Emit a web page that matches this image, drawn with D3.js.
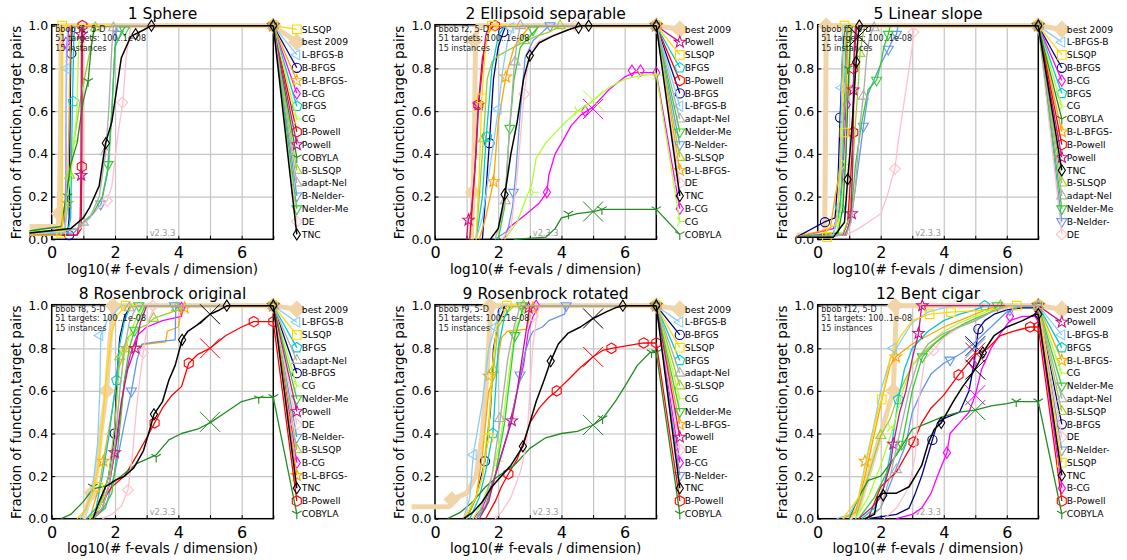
<!DOCTYPE html>
<html><head><meta charset="utf-8">
<script src="https://cdn.jsdelivr.net/npm/d3@7"></script>
<style>body{margin:0;background:#fff}svg{display:block}text{font-family:"DejaVu Sans",sans-serif}</style>
</head><body><svg id="c" width="1127" height="560"></svg>
<script>
// ---------------- DATA ----------------
const xTickLabels = [0, 2, 4, 6];
const yTickLabels = [0.0, 0.2, 0.4, 0.6, 0.8, 1.0];
const infoLines2 = "51 targets: 100..1e-08";
const infoLines3 = "15 instances";
const versionText = "v2.3.3";

const titles = ["1 Sphere", "2 Ellipsoid separable", "5 Linear slope", "8 Rosenbrock original", "9 Rosenbrock rotated", "12 Bent cigar"];
const infoHeads = ["bbob f1, 5-D", "bbob f2, 5-D", "bbob f5, 5-D", "bbob f8, 5-D", "bbob f9, 5-D", "bbob f12, 5-D"];

// legend order (top to bottom) per panel
const orderF1 = ["SLSQP","best 2009","L-BFGS-B","B-BFGS","B-L-BFGS-","B-CG","BFGS","CG","B-Powell","Powell","COBYLA","B-SLSQP","adapt-Nel","B-Nelder-","Nelder-Me","DE","TNC"];
const orderF2 = ["best 2009","Powell","SLSQP","BFGS","B-Powell","B-BFGS","L-BFGS-B","adapt-Nel","Nelder-Me","B-Nelder-","B-SLSQP","B-L-BFGS-","DE","TNC","B-CG","CG","COBYLA"];
const orderF5 = ["best 2009","L-BFGS-B","SLSQP","B-BFGS","B-CG","BFGS","CG","COBYLA","B-L-BFGS-","B-Powell","Powell","TNC","B-SLSQP","adapt-Nel","Nelder-Me","B-Nelder-","DE"];
const orderF8 = ["best 2009","L-BFGS-B","SLSQP","BFGS","adapt-Nel","B-BFGS","CG","Nelder-Me","Powell","DE","B-Nelder-","B-SLSQP","B-CG","B-L-BFGS-","TNC","B-Powell","COBYLA"];
const orderF9 = ["best 2009","L-BFGS-B","B-BFGS","SLSQP","BFGS","adapt-Nel","B-SLSQP","CG","Nelder-Me","B-L-BFGS-","Powell","DE","B-CG","B-Nelder-","TNC","B-Powell","COBYLA"];
const orderF12 = ["best 2009","Powell","L-BFGS-B","BFGS","B-L-BFGS-","CG","Nelder-Me","adapt-Nel","B-SLSQP","B-BFGS","DE","B-Nelder-","SLSQP","TNC","B-CG","B-Powell","COBYLA"];

// ECDF curves: [log10(#f-evals/dim), fraction]
const curvesF1 = {
 "best 2009":[[-0.7,0.06],[0.2,0.06],[0.24,0.12],[0.28,0.5],[0.3,1.0]],
 "SLSQP":[[-0.7,0.02],[0.3,0.02],[0.31,0.05],[0.33,0.06],[0.33,1.0]],
 "L-BFGS-B":[[-0.7,0.03],[0.4,0.03],[0.45,0.1],[0.47,0.8],[0.5,1.0]],
 "B-BFGS":[[-0.7,0.02],[0.5,0.02],[0.55,0.1],[0.6,0.85],[0.65,1.0]],
 "B-L-BFGS-":[[-0.7,0.04],[0.3,0.04],[0.45,0.15],[0.5,0.2],[0.55,0.6],[0.6,1.0]],
 "B-CG":[[-0.7,0.03],[0.4,0.03],[0.45,0.3],[0.47,0.9],[0.55,1.0]],
 "BFGS":[[-0.7,0.03],[0.5,0.03],[0.6,0.1],[0.65,0.6],[0.7,0.95],[0.75,1.0]],
 "CG":[[-0.7,0.04],[0.4,0.04],[0.5,0.2],[0.6,0.3],[0.7,0.45],[0.8,0.6],[0.85,0.9],[0.9,1.0]],
 "B-Powell":[[-0.7,0.02],[0.8,0.02],[0.93,0.05],[0.95,0.3],[0.97,1.0]],
 "Powell":[[-0.7,0.02],[0.8,0.02],[0.9,0.1],[0.92,0.3],[0.94,0.96],[0.97,1.0]],
 "COBYLA":[[-0.7,0.04],[0.3,0.06],[0.4,0.15],[0.5,0.25],[0.6,0.35],[0.8,0.45],[0.9,0.55],[1.0,0.65],[1.15,0.74],[1.25,0.9],[1.35,1.0]],
 "B-SLSQP":[[-0.7,0.03],[0.4,0.03],[0.5,0.15],[0.55,0.3],[0.65,0.4],[0.75,0.5],[0.9,0.65],[1.1,0.8],[1.3,0.95],[1.4,1.0]],
 "adapt-Nel":[[-0.7,0.03],[0.8,0.05],[1.0,0.08],[1.2,0.1],[1.5,0.2],[1.7,0.4],[1.8,0.6],[1.9,0.9],[1.95,1.0]],
 "B-Nelder-":[[-0.7,0.02],[0.7,0.03],[1.0,0.08],[1.3,0.12],[1.55,0.16],[1.75,0.3],[1.9,0.6],[2.0,0.9],[2.05,1.0]],
 "Nelder-Me":[[-0.7,0.03],[0.8,0.05],[1.0,0.08],[1.3,0.12],[1.6,0.2],[1.8,0.35],[1.9,0.6],[2.0,0.9],[2.2,0.97],[2.35,1.0]],
 "DE":[[-0.7,0.02],[0.9,0.05],[1.2,0.1],[1.5,0.15],[1.75,0.18],[1.9,0.25],[2.1,0.5],[2.25,0.64],[2.35,0.85],[2.5,1.0]],
 "TNC":[[-0.7,0.03],[0.6,0.05],[1.0,0.1],[1.2,0.15],[1.5,0.25],[1.7,0.45],[1.9,0.55],[2.0,0.65],[2.2,0.85],[2.5,0.95],[2.9,0.98],[3.15,1.0]]
};
const marksF1 = {
 "best 2009":[[0.24,0.12]], "SLSQP":[[0.3,0.03],[0.33,1.0]], "L-BFGS-B":[[0.47,0.8]], "B-BFGS":[[0.62,0.87],[0.55,0.02]],
 "B-L-BFGS-":[[0.5,0.17]], "B-CG":[[0.45,0.92]], "BFGS":[[0.68,0.645]], "CG":[[0.75,0.46],[0.55,0.3]],
 "B-Powell":[[0.95,0.34],[0.97,1.0]], "Powell":[[0.93,0.3],[0.93,0.96]], "COBYLA":[[1.15,0.74],[0.5,0.2]],
 "B-SLSQP":[[0.57,0.3],[1.38,0.99]], "adapt-Nel":[[1.7,0.41],[1.0,0.08],[1.95,0.99]], "B-Nelder-":[[1.55,0.165],[2.1,0.96]],
 "Nelder-Me":[[1.78,0.35],[2.3,0.98]], "DE":[[1.75,0.18],[2.23,0.64]], "TNC":[[1.71,0.45],[2.65,0.96],[3.15,1.0]]
};
const crossesF1 = {};

const curvesF2 = {
 "best 2009":[[1.15,0],[1.2,0.22],[1.25,0.5],[1.28,0.93],[1.35,1.0]],
 "Powell":[[1.0,0],[1.05,0.09],[1.15,0.13],[1.3,0.4],[1.38,0.63],[1.5,0.8],[1.6,0.95],[1.7,1.0]],
 "SLSQP":[[1.3,0],[1.4,0.3],[1.48,0.66],[1.6,0.9],[1.75,1.0]],
 "BFGS":[[1.3,0],[1.5,0.2],[1.62,0.48],[1.8,0.8],[2.0,0.95],[2.2,1.0]],
 "B-Powell":[[1.1,0],[1.25,0.3],[1.37,0.63],[1.5,0.85],[1.7,0.97],[1.85,1.0]],
 "B-BFGS":[[1.5,0],[1.6,0.2],[1.72,0.45],[1.85,0.75],[2.0,0.9],[2.16,0.97],[2.25,1.0]],
 "L-BFGS-B":[[1.3,0],[1.5,0.1],[1.7,0.3],[1.9,0.5],[2.0,0.61],[2.15,0.8],[2.3,0.93],[2.5,1.0]],
 "adapt-Nel":[[1.9,0],[2.1,0.1],[2.22,0.18],[2.35,0.5],[2.5,0.8],[2.6,0.93],[2.7,1.0]],
 "Nelder-Me":[[2.0,0],[2.2,0.15],[2.35,0.5],[2.5,0.75],[2.7,0.9],[3.0,0.95],[3.3,1.0]],
 "B-Nelder-":[[1.9,0],[2.3,0.04],[2.45,0.15],[2.55,0.3],[2.7,0.6],[2.85,0.85],[3.1,0.93],[3.4,0.97],[3.6,1.0]],
 "B-SLSQP":[[1.3,0],[1.4,0.2],[1.53,0.47],[1.65,0.75],[1.8,0.83],[2.0,0.86],[2.5,0.9],[2.9,0.93],[3.2,0.95],[3.6,0.97],[4.0,1.0]],
 "B-L-BFGS-":[[1.4,0],[1.6,0.1],[1.85,0.27],[2.0,0.55],[2.24,0.76],[2.5,0.9],[2.8,0.96],[3.0,1.0]],
 "DE":[[2.1,0],[2.4,0.05],[2.6,0.3],[2.82,0.68],[3.0,0.88],[3.3,0.93],[3.8,0.96],[4.2,0.98],[4.45,1.0]],
 "TNC":[[1.75,0],[2.0,0.05],[2.2,0.2],[2.4,0.4],[2.6,0.55],[2.8,0.75],[3.0,0.86],[3.3,0.92],[3.7,0.95],[4.2,0.98],[4.6,1.0]],
 "B-CG":[[2.2,0],[2.3,0.05],[2.9,0.12],[3.3,0.17],[3.54,0.22],[3.6,0.3],[3.8,0.4],[4.0,0.45],[4.3,0.53],[4.6,0.58],[5.0,0.62],[5.5,0.7],[6.0,0.76],[6.3,0.78]],
 "CG":[[2.2,0],[2.6,0.08],[2.9,0.2],[3.05,0.25],[3.2,0.38],[3.5,0.45],[4.0,0.53],[4.5,0.6],[5.0,0.65],[5.5,0.71],[6.0,0.75],[6.6,0.77]],
 "COBYLA":[[2.5,0],[3.5,0.01],[3.8,0.05],[4.0,0.1],[4.5,0.12],[5.0,0.13],[5.3,0.14]]
};
const marksF2 = {
 "best 2009":[[1.2,0.22],[1.25,0.93]], "Powell":[[1.06,0.09],[1.38,0.63]], "SLSQP":[[1.48,0.66],[1.8,1.0]], "BFGS":[[1.64,0.48]],
 "B-Powell":[[1.37,0.63],[1.9,1.0]], "B-BFGS":[[1.72,0.45],[2.16,0.97]], "L-BFGS-B":[[2.0,0.61],[2.4,0.99]],
 "adapt-Nel":[[2.22,0.18],[2.53,0.83],[2.7,1.0]], "Nelder-Me":[[2.37,0.52],[3.1,0.98]], "B-Nelder-":[[2.48,0.22],[3.64,1.0]],
 "B-SLSQP":[[1.53,0.47],[2.82,0.93],[3.96,1.0]], "B-L-BFGS-":[[1.85,0.27],[2.24,0.76]], "DE":[[2.82,0.68],[4.43,1.0]],
 "TNC":[[2.2,0.21],[3.0,0.86],[4.54,0.99],[4.86,1.0]], "B-CG":[[3.54,0.22],[4.75,0.6],[6.23,0.79],[6.5,0.79]],
 "CG":[[3.1,0.22],[4.5,0.6],[6.5,0.77]], "COBYLA":[[4.22,0.12],[5.28,0.14]]
};
const crossesF2 = {"B-CG":[5.0,0.61], "CG":[5.0,0.65], "COBYLA":[5.0,0.13]};

const curvesF5 = {
 "best 2009":[[-0.67,0.02],[0.22,0.02],[0.25,0.5],[0.27,1.0]],
 "L-BFGS-B":[[-0.67,0.01],[0.5,0.02],[0.65,0.15],[0.72,0.4],[0.76,0.71],[0.8,1.0]],
 "SLSQP":[[-0.67,0.01],[0.25,0.01],[0.3,0.05],[0.6,0.07],[0.7,0.25],[0.78,0.5],[0.82,0.8],[0.88,1.0]],
 "B-BFGS":[[-0.67,0.01],[0.2,0.08],[0.55,0.1],[0.65,0.3],[0.71,0.57],[0.8,0.9],[0.88,1.0]],
 "B-CG":[[-0.67,0.01],[0.5,0.05],[0.7,0.15],[0.8,0.3],[0.9,0.63],[0.93,0.9],[0.95,1.0]],
 "BFGS":[[-0.67,0.01],[0.5,0.03],[0.65,0.1],[0.71,0.145],[0.8,0.4],[0.85,0.7],[0.9,0.95],[0.95,1.0]],
 "CG":[[-0.67,0.01],[0.6,0.03],[0.75,0.15],[0.87,0.35],[0.95,0.7],[1.0,0.9],[1.05,1.0]],
 "COBYLA":[[-0.67,0.01],[0.65,0.03],[0.8,0.15],[0.9,0.4],[0.98,0.75],[1.05,0.95],[1.1,1.0]],
 "B-L-BFGS-":[[-0.67,0.01],[0.4,0.05],[0.55,0.2],[0.62,0.25],[0.75,0.4],[0.85,0.6],[0.9,0.71],[0.95,0.95],[1.0,1.0]],
 "B-Powell":[[-0.67,0.01],[0.8,0.02],[0.95,0.08],[1.05,0.3],[1.13,0.5],[1.15,0.8],[1.2,0.95],[1.25,1.0]],
 "Powell":[[-0.67,0.01],[0.9,0.02],[1.05,0.1],[1.1,0.3],[1.13,0.7],[1.16,0.9],[1.2,1.0]],
 "TNC":[[-0.67,0.01],[0.5,0.01],[0.85,0.08],[0.95,0.28],[1.05,0.45],[1.12,0.6],[1.22,0.83],[1.28,0.95],[1.32,1.0]],
 "B-SLSQP":[[-0.67,0.01],[0.8,0.03],[1.0,0.1],[1.1,0.3],[1.2,0.55],[1.3,0.75],[1.34,0.87],[1.45,0.97],[1.5,1.0]],
 "adapt-Nel":[[-0.67,0.01],[0.9,0.02],[1.05,0.08],[1.2,0.25],[1.35,0.55],[1.45,0.67],[1.55,0.85],[1.65,0.95],[1.8,1.0]],
 "Nelder-Me":[[-0.67,0.01],[0.9,0.02],[1.05,0.1],[1.2,0.35],[1.4,0.55],[1.6,0.7],[1.87,0.745],[2.0,0.82],[2.1,0.9],[2.24,0.96],[2.3,1.0]],
 "B-Nelder-":[[-0.67,0.01],[0.85,0.02],[1.05,0.08],[1.25,0.3],[1.45,0.53],[1.6,0.68],[1.8,0.75],[2.0,0.82],[2.24,0.89],[2.4,0.94],[2.5,0.96],[2.55,1.0]],
 "DE":[[-0.67,0.01],[0.9,0.02],[1.3,0.05],[1.7,0.09],[2.0,0.12],[2.2,0.2],[2.35,0.28],[2.45,0.33],[2.55,0.45],[2.7,0.6],[2.85,0.75],[3.0,0.9],[3.04,0.97],[3.1,1.0]]
};
const marksF5 = {
 "best 2009":[[0.27,1.0]], "L-BFGS-B":[[0.76,0.71]], "SLSQP":[[0.29,0.01],[0.85,0.5],[0.85,1.0]], "B-BFGS":[[0.23,0.08],[0.71,0.57]],
 "B-CG":[[0.92,0.63]], "BFGS":[[0.71,0.145]], "CG":[[0.87,0.35]], "COBYLA":[[0.95,0.8]], "B-L-BFGS-":[[0.9,0.71]],
 "B-Powell":[[1.13,0.5],[1.13,0.8]], "Powell":[[1.08,0.12],[1.13,0.7]], "TNC":[[0.95,0.28],[1.22,0.83],[1.32,1.0]],
 "B-SLSQP":[[1.34,0.87]], "adapt-Nel":[[1.45,0.67],[1.79,0.99]], "Nelder-Me":[[1.87,0.745],[2.24,0.96]],
 "B-Nelder-":[[1.45,0.53],[2.24,0.89],[2.5,0.96]], "DE":[[2.45,0.33],[3.04,0.97]]
};
const crossesF5 = {"TNC":[1.3,0.95]};

const curvesF8 = {
 "best 2009":[[1.0,0],[1.1,0.05],[1.26,0.12],[1.4,0.2],[1.55,0.4],[1.73,0.6],[1.85,0.85],[1.95,1.0]],
 "L-BFGS-B":[[0.9,0],[1.1,0.05],[1.3,0.15],[1.45,0.35],[1.52,0.6],[1.55,0.86],[1.75,0.93],[2.0,0.97],[2.2,1.0]],
 "SLSQP":[[0.8,0],[1.0,0.03],[1.3,0.12],[1.47,0.25],[1.6,0.45],[1.75,0.7],[1.9,0.88],[2.1,0.96],[2.35,1.0]],
 "BFGS":[[1.1,0],[1.4,0.05],[1.6,0.2],[1.8,0.38],[1.95,0.55],[2.05,0.65],[2.15,0.82],[2.3,0.93],[2.5,1.0]],
 "adapt-Nel":[[1.3,0],[1.6,0.05],[1.8,0.15],[2.0,0.35],[2.15,0.6],[2.3,0.8],[2.45,0.92],[2.6,0.97],[2.7,1.0]],
 "B-BFGS":[[1.2,0],[1.5,0.05],[1.8,0.2],[1.99,0.4],[2.05,0.65],[2.15,0.85],[2.3,0.95],[2.5,1.0]],
 "CG":[[1.2,0],[1.5,0.05],[1.8,0.15],[2.0,0.35],[2.15,0.6],[2.3,0.78],[2.5,0.88],[2.7,0.95],[2.9,1.0]],
 "Nelder-Me":[[1.3,0],[1.6,0.04],[1.9,0.12],[2.1,0.35],[2.3,0.65],[2.45,0.8],[2.62,0.885],[2.8,0.95],[2.95,1.0]],
 "Powell":[[1.3,0],[1.6,0.05],[1.8,0.15],[1.99,0.31],[2.2,0.55],[2.4,0.7],[2.64,0.8],[2.8,0.92],[3.0,1.0]],
 "DE":[[1.6,0],[1.9,0.02],[2.2,0.06],[2.41,0.135],[2.55,0.3],[2.7,0.55],[2.89,0.78],[3.05,0.93],[3.2,0.98],[3.3,1.0]],
 "B-Nelder-":[[1.3,0],[1.7,0.05],[2.0,0.22],[2.3,0.45],[2.52,0.6],[2.7,0.75],[2.85,0.82],[3.3,0.83],[3.9,0.84],[3.92,1.0]],
 "B-SLSQP":[[1.2,0],[1.5,0.05],[1.8,0.2],[2.0,0.45],[2.15,0.76],[2.4,0.85],[2.7,0.89],[3.0,0.91],[3.22,0.94],[3.6,0.96],[4.0,0.98],[4.05,1.0]],
 "B-CG":[[1.2,0],[1.5,0.05],[1.8,0.15],[2.1,0.4],[2.3,0.65],[2.5,0.78],[2.7,0.86],[3.0,0.9],[3.5,0.93],[4.1,0.95],[4.15,1.0]],
 "B-L-BFGS-":[[1.2,0],[1.5,0.15],[1.63,0.27],[1.9,0.5],[2.1,0.7],[2.36,0.8],[2.7,0.81],[3.0,0.82],[3.6,0.83],[3.65,0.88],[4.0,0.9],[4.1,0.98],[4.2,1.0]],
 "TNC":[[1.3,0],[1.5,0.08],[1.7,0.15],[2.0,0.18],[2.3,0.2],[2.6,0.24],[2.9,0.32],[3.1,0.42],[3.23,0.49],[3.5,0.55],[3.7,0.65],[3.9,0.72],[4.12,0.84],[4.3,0.88],[4.6,0.91],[5.0,0.96],[5.3,0.98],[5.55,1.0]],
 "B-Powell":[[1.3,0],[1.6,0.08],[1.9,0.15],[2.3,0.2],[2.7,0.3],[3.0,0.38],[3.25,0.45],[3.5,0.52],[3.8,0.58],[4.1,0.62],[4.33,0.73],[4.6,0.77],[5.0,0.8],[5.5,0.86],[6.0,0.9],[6.38,0.925]],
 "COBYLA":[[0.3,0],[0.6,0.02],[1.0,0.08],[1.3,0.14],[1.6,0.15],[1.85,0.16],[2.2,0.2],[2.7,0.26],[3.3,0.3],[3.7,0.37],[4.1,0.4],[4.6,0.42],[5.0,0.45],[5.5,0.5],[6.0,0.55],[6.5,0.57]]
};
const marksF8 = {
 "best 2009":[[1.26,0.12],[1.73,0.6],[1.94,1.0]], "L-BFGS-B":[[1.52,0.86]], "SLSQP":[[1.47,0.15],[2.34,1.0]], "BFGS":[[2.05,0.65]],
 "adapt-Nel":[[2.45,0.99]], "B-BFGS":[[1.99,0.4]], "CG":[[2.2,0.78]], "Nelder-Me":[[2.62,0.885],[2.75,1.0]],
 "Powell":[[1.99,0.31],[2.64,0.8]], "DE":[[2.41,0.135],[2.89,0.78],[3.2,1.0]], "B-Nelder-":[[2.52,0.6],[3.88,1.0]],
 "B-SLSQP":[[2.15,0.76],[3.22,0.94],[3.94,0.99]], "B-CG":[[4.1,0.99]], "B-L-BFGS-":[[1.63,0.27],[2.36,0.8],[4.2,0.99]],
 "TNC":[[3.23,0.49],[4.12,0.84],[5.53,1.0]], "B-Powell":[[3.25,0.45],[4.33,0.73],[6.38,0.925]], "COBYLA":[[1.3,0.15],[3.3,0.29],[6.54,0.565]]
};
const crossesF8 = {"TNC":[5.0,0.96], "B-Powell":[5.0,0.8], "COBYLA":[5.0,0.455]};

const curvesF9 = {
 "best 2009":[[-0.74,0.056],[0.45,0.056],[0.53,0.09],[1.0,0.12],[1.3,0.2],[1.5,0.4],[1.65,0.7],[1.75,0.95],[1.85,1.0]],
 "L-BFGS-B":[[0.9,0],[1.1,0.1],[1.21,0.3],[1.5,0.55],[1.7,0.8],[1.9,0.9],[2.0,0.95],[2.1,1.0]],
 "B-BFGS":[[1.0,0],[1.3,0.1],[1.58,0.27],[1.75,0.5],[1.85,0.8],[2.0,0.92],[2.14,0.97],[2.2,1.0]],
 "SLSQP":[[0.9,0],[1.3,0.1],[1.5,0.2],[1.69,0.38],[1.8,0.7],[1.95,0.9],[2.2,0.97],[2.3,1.0]],
 "BFGS":[[1.1,0],[1.4,0.1],[1.6,0.22],[1.83,0.4],[2.0,0.8],[2.2,0.95],[2.4,1.0]],
 "adapt-Nel":[[1.3,0],[1.6,0.1],[1.8,0.2],[2.05,0.45],[2.3,0.75],[2.5,0.9],[2.7,1.0]],
 "B-SLSQP":[[1.0,0],[1.3,0.1],[1.5,0.2],[1.7,0.45],[1.85,0.7],[2.0,0.9],[2.3,0.97],[2.5,1.0]],
 "CG":[[1.2,0],[1.5,0.08],[1.8,0.2],[2.1,0.4],[2.35,0.7],[2.55,0.9],[2.8,0.97],[2.9,1.0]],
 "Nelder-Me":[[1.3,0],[1.6,0.06],[1.9,0.2],[2.2,0.45],[2.4,0.7],[2.53,0.86],[2.7,0.94],[2.8,1.0]],
 "B-L-BFGS-":[[1.0,0],[1.3,0.1],[1.5,0.3],[1.7,0.6],[1.9,0.67],[2.1,0.85],[2.3,0.88],[2.9,0.89],[3.0,0.95],[3.1,1.0]],
 "Powell":[[1.4,0],[1.7,0.08],[1.9,0.2],[2.2,0.35],[2.43,0.46],[2.6,0.6],[2.75,0.75],[2.9,0.9],[3.0,1.0]],
 "DE":[[1.9,0],[2.1,0.03],[2.4,0.1],[2.7,0.22],[2.9,0.35],[3.0,0.6],[3.1,0.82],[3.2,0.93],[3.3,1.0]],
 "B-CG":[[1.2,0],[1.5,0.05],[1.9,0.2],[2.3,0.4],[2.6,0.6],[2.8,0.72],[2.95,0.88],[3.1,0.95],[3.3,1.0]],
 "B-Nelder-":[[1.3,0],[1.6,0.05],[1.9,0.2],[2.3,0.4],[2.6,0.6],[2.69,0.675],[2.85,0.78],[3.0,0.85],[3.1,0.88],[3.4,0.9],[3.6,0.93],[4.1,0.96],[4.15,1.0]],
 "TNC":[[0.9,0],[1.2,0.03],[1.5,0.08],[1.8,0.15],[2.1,0.2],[2.4,0.25],[2.78,0.34],[3.0,0.45],[3.2,0.55],[3.45,0.65],[3.66,0.74],[3.9,0.82],[4.2,0.87],[4.6,0.9],[5.0,0.94],[5.4,0.97],[5.7,0.99],[5.95,1.0]],
 "B-Powell":[[1.6,0],[1.9,0.08],[2.1,0.15],[2.32,0.21],[2.6,0.28],[2.85,0.38],[3.0,0.45],[3.3,0.52],[3.6,0.57],[3.85,0.6],[4.2,0.65],[4.6,0.71],[5.0,0.76],[5.3,0.79],[5.58,0.8],[6.0,0.81],[6.6,0.825]],
 "COBYLA":[[0.4,0],[0.8,0.03],[1.2,0.08],[1.6,0.15],[2.0,0.2],[2.5,0.25],[3.0,0.33],[3.5,0.38],[4.0,0.4],[4.5,0.41],[5.0,0.44],[5.3,0.47],[5.7,0.55],[6.0,0.62],[6.4,0.72],[6.8,0.78]]
};
const marksF9 = {
 "best 2009":[[0.53,0.09],[1.74,1.0]], "L-BFGS-B":[[1.21,0.3],[1.9,0.9]], "B-BFGS":[[1.58,0.27],[2.14,0.97]],
 "SLSQP":[[1.69,0.38],[2.27,1.0]], "BFGS":[[1.83,0.4]], "adapt-Nel":[[2.05,0.47]], "B-SLSQP":[[1.85,0.7],[2.8,1.0]],
 "CG":[[2.0,0.27]], "Nelder-Me":[[2.53,0.86],[2.75,1.0]], "B-L-BFGS-":[[1.7,0.67],[3.1,0.99]], "Powell":[[2.43,0.46],[2.96,0.99]],
 "DE":[[3.1,0.95]], "B-CG":[[3.2,1.0]], "B-Nelder-":[[2.69,0.675],[4.15,1.0]], "TNC":[[2.78,0.34],[3.66,0.74],[5.94,1.0]],
 "B-Powell":[[2.32,0.21],[3.85,0.6],[5.58,0.8],[6.6,0.825]], "COBYLA":[[5.3,0.47],[6.85,0.78]]
};
const crossesF9 = {"TNC":[5.0,0.94], "B-Powell":[5.0,0.76], "COBYLA":[5.0,0.44]};

const curvesF12 = {
 "best 2009":[[1.0,0],[1.3,0.05],[1.6,0.2],[1.9,0.35],[2.2,0.5],[2.4,0.6],[2.45,0.8],[2.5,1.0]],
 "Powell":[[1.3,0],[1.7,0.05],[2.0,0.1],[2.3,0.25],[2.4,0.35],[2.6,0.5],[2.8,0.6],[3.0,0.75],[3.2,0.87],[3.3,1.0]],
 "L-BFGS-B":[[0.6,0],[1.0,0.02],[1.3,0.1],[1.5,0.25],[1.8,0.45],[2.0,0.6],[2.3,0.75],[2.5,0.8],[2.7,0.85],[3.0,0.92],[3.5,0.97],[4.0,0.99],[4.3,1.0]],
 "BFGS":[[1.4,0],[1.8,0.05],[2.1,0.15],[2.3,0.3],[2.56,0.56],[2.75,0.7],[3.0,0.8],[3.5,0.88],[4.0,0.93],[4.5,0.96],[5.0,0.98],[5.3,1.0]],
 "B-L-BFGS-":[[0.8,0],[1.2,0.03],[1.5,0.2],[1.8,0.4],[2.1,0.6],[2.3,0.72],[2.48,0.76],[3.0,0.82],[3.5,0.86],[4.0,0.9],[4.5,0.93],[5.0,0.96],[5.5,0.99],[5.8,1.0]],
 "CG":[[1.2,0],[1.6,0.1],[2.0,0.25],[2.4,0.43],[2.7,0.6],[3.0,0.72],[3.5,0.82],[4.0,0.88],[4.5,0.92],[5.0,0.95],[5.5,0.98],[5.8,1.0]],
 "Nelder-Me":[[1.3,0],[1.8,0.1],[2.3,0.25],[2.67,0.35],[3.0,0.6],[3.32,0.76],[3.7,0.82],[4.2,0.88],[4.7,0.92],[5.0,0.94],[5.5,0.97],[5.7,1.0]],
 "adapt-Nel":[[1.6,0],[2.0,0.05],[2.3,0.2],[2.6,0.4],[2.9,0.6],[3.2,0.75],[3.5,0.82],[4.0,0.87],[4.5,0.9],[5.0,0.93],[5.5,0.97],[6.0,1.0]],
 "B-SLSQP":[[1.2,0],[1.6,0.2],[2.0,0.39],[2.3,0.47],[2.6,0.6],[3.0,0.72],[3.5,0.8],[4.0,0.86],[4.5,0.9],[5.0,0.93],[5.5,0.97],[6.0,1.0]],
 "B-BFGS":[[1.6,0],[2.5,0.02],[2.9,0.05],[3.1,0.12],[3.3,0.2],[3.5,0.3],[3.64,0.37],[3.8,0.45],[4.0,0.47],[4.5,0.5],[4.8,0.6],[4.95,0.72],[5.1,0.89],[5.3,0.93],[5.6,0.96],[6.0,0.98],[6.5,0.99]],
 "DE":[[2.1,0],[2.5,0.05],[2.9,0.15],[3.1,0.3],[3.2,0.55],[3.4,0.75],[3.67,0.79],[4.0,0.85],[4.5,0.9],[5.0,0.94],[5.5,0.97],[6.0,0.99],[6.3,1.0]],
 "B-Nelder-":[[1.5,0],[2.0,0.05],[2.4,0.2],[2.8,0.35],[3.0,0.5],[3.3,0.6],[3.6,0.68],[4.0,0.73],[4.2,0.745],[4.6,0.78],[5.0,0.83],[5.5,0.9],[6.0,0.97],[6.5,1.0]],
 "SLSQP":[[0.8,0],[1.3,0.1],[1.6,0.3],[1.9,0.5],[2.03,0.56],[2.3,0.75],[2.6,0.85],[3.0,0.93],[3.55,0.96],[4.23,0.97],[5.5,0.98],[6.3,1.0]],
 "TNC":[[1.5,0],[1.8,0.02],[1.9,0.1],[2.08,0.12],[2.5,0.12],[2.9,0.15],[3.1,0.2],[3.3,0.25],[3.5,0.35],[3.7,0.42],[3.92,0.45],[4.3,0.55],[4.6,0.62],[4.9,0.68],[5.1,0.73],[5.24,0.78],[5.6,0.86],[6.0,0.9],[6.5,0.93],[6.9,0.96]],
 "B-CG":[[2.5,0],[3.0,0.02],[3.3,0.05],[3.6,0.12],[3.8,0.2],[4.1,0.31],[4.2,0.4],[4.5,0.45],[4.8,0.5],[5.0,0.58],[5.2,0.7],[5.5,0.8],[5.8,0.87],[6.1,0.93],[6.5,0.95]],
 "B-Powell":[[1.6,0],[2.0,0.15],[2.5,0.22],[3.04,0.36],[3.3,0.45],[3.6,0.52],[4.0,0.58],[4.47,0.675],[5.0,0.77],[5.4,0.8],[5.8,0.86],[6.2,0.88],[6.74,0.9]],
 "COBYLA":[[1.0,0],[1.3,0.1],[1.6,0.18],[2.0,0.2],[2.5,0.3],[3.0,0.42],[3.5,0.45],[4.0,0.48],[4.5,0.5],[5.0,0.51],[5.5,0.53],[6.0,0.54],[6.3,0.55]]
};
const marksF12 = {
 "best 2009":[[2.4,0.6],[2.45,1.0]], "Powell":[[2.4,0.35],[3.2,0.87],[3.32,1.0]], "L-BFGS-B":[[2.4,0.8]], "BFGS":[[2.56,0.56],[5.3,1.0]],
 "B-L-BFGS-":[[2.48,0.76],[1.5,0.27]], "CG":[[2.3,0.43]], "Nelder-Me":[[2.67,0.35],[3.32,0.76],[5.7,1.0]], "adapt-Nel":[[2.5,0.23]],
 "B-SLSQP":[[2.0,0.39],[5.8,1.0]], "B-BFGS":[[3.64,0.37],[5.1,0.89]], "DE":[[3.67,0.79]], "B-Nelder-":[[4.2,0.745],[6.1,0.98]],
 "SLSQP":[[2.03,0.56],[3.55,0.96],[4.23,0.97],[6.32,1.0]], "TNC":[[2.08,0.11],[3.92,0.45],[5.24,0.78]],
 "B-CG":[[4.1,0.31],[4.92,0.73],[6.1,0.95]], "B-Powell":[[3.04,0.36],[4.47,0.675],[6.74,0.9]], "COBYLA":[[6.3,0.55]]
};
const crossesF12 = {"B-BFGS":[5.0,0.81], "B-Nelder-":[5.0,0.8], "TNC":[5.0,0.7], "B-CG":[5.0,0.58], "B-Powell":[5.0,0.78], "COBYLA":[5.0,0.51]};

// ---------------- STYLE ----------------
const algoStyle = {
 "best 2009":{color:"#f1d5a9", marker:"D"},
 "B-BFGS":{color:"#000080", marker:"o"},
 "B-CG":{color:"#ff00ff", marker:"d"},
 "B-L-BFGS-":{color:"#ffa500", marker:"*"},
 "B-Nelder-":{color:"#6495ed", marker:"v"},
 "B-Powell":{color:"#ff0000", marker:"h"},
 "B-SLSQP":{color:"#9acd32", marker:"^"},
 "BFGS":{color:"#00c8d0", marker:"p"},
 "CG":{color:"#adff2f", marker:"4"},
 "COBYLA":{color:"#228b22", marker:"1"},
 "DE":{color:"#ffc0cb", marker:"D"},
 "L-BFGS-B":{color:"#87cefa", marker:"<"},
 "Nelder-Me":{color:"#32cd32", marker:"v"},
 "Powell":{color:"#c71585", marker:"*"},
 "SLSQP":{color:"#ffd700", marker:"s"},
 "adapt-Nel":{color:"#acacac", marker:"^"},
 "TNC":{color:"#000000", marker:"d"}
};
const drawOrder = Object.keys(algoStyle);

const panels = [
 {curves:curvesF1, marks:marksF1, crosses:crossesF1, order:orderF1},
 {curves:curvesF2, marks:marksF2, crosses:crossesF2, order:orderF2},
 {curves:curvesF5, marks:marksF5, crosses:crossesF5, order:orderF5},
 {curves:curvesF8, marks:marksF8, crosses:crossesF8, order:orderF8},
 {curves:curvesF9, marks:marksF9, crosses:crossesF9, order:orderF9},
 {curves:curvesF12, marks:marksF12, crosses:crossesF12, order:orderF12}
];

const COL_LEFT = [51.7, 435, 817.7];
const COL_WIDTH = [221.6, 221.3, 220.6];
const ROW_BOTTOM = [239.3, 518.7];
const ROW_HEIGHT = [213.6, 213];

function poly(n, R, rot){
  const pts=[];
  for(let i=0;i<n;i++){const a=rot+i*2*Math.PI/n; pts.push([R*Math.cos(a), R*Math.sin(a)]);}
  return "M"+pts.map(p=>p[0].toFixed(2)+","+p[1].toFixed(2)).join("L")+"Z";
}
function markerPath(t, k){
  k = k||1;
  switch(t){
    case "o": { const r=4.6*k; return `M${r},0A${r},${r} 0 1,1 ${-r},0A${r},${r} 0 1,1 ${r},0Z`; }
    case "s": { const h=4.3*k; return `M${-h},${-h}H${h}V${h}H${-h}Z`; }
    case "D": return poly(4, 5.4*k, -Math.PI/2);
    case "d": { const w=3.6*k, h=5.6*k; return `M0,${-h}L${w},0L0,${h}L${-w},0Z`; }
    case "p": return poly(5, 5.2*k, -Math.PI/2);
    case "h": return poly(6, 5.2*k, -Math.PI/2);
    case "^": return poly(3, 5.8*k, -Math.PI/2);
    case "v": return poly(3, 5.8*k, Math.PI/2);
    case "<": return poly(3, 5.8*k, Math.PI);
    case "*": { const pts=[]; for(let i=0;i<10;i++){const a=-Math.PI/2+i*Math.PI/5; const R=(i%2?2.5:6)*k; pts.push([R*Math.cos(a),R*Math.sin(a)]);} return "M"+pts.map(p=>p[0].toFixed(2)+","+p[1].toFixed(2)).join("L")+"Z"; }
    case "1": { const L=5.5*k; return `M0,0L0,${L}M0,0L${-L*0.866},${-L*0.5}M0,0L${L*0.866},${-L*0.5}`; }
    case "4": { const L=5.5*k; return `M0,0L${L},0M0,0L${-L*0.5},${-L*0.866}M0,0L${-L*0.5},${L*0.866}`; }
    case "X": { const L=10*k; return `M${-L},${-L}L${L},${L}M${-L},${L}L${L},${-L}`; }
  }
}

const svg = d3.select("#c");

panels.forEach((P, idx) => {
  const row = Math.floor(idx/3), col = idx%3;
  const x0 = COL_LEFT[col], x1 = x0 + COL_WIDTH[col];
  const yb = ROW_BOTTOM[row], yt = yb - ROW_HEIGHT[row];
  const xs = d3.scaleLinear().domain([0, 7]).range([x0, x1]);
  const ys = d3.scaleLinear().domain([0, 1]).range([yb, yt]);
  const g = svg.append("g");

  // grid
  const gx = g.append("g").attr("transform", `translate(0,${yb})`)
    .call(d3.axisBottom(xs).tickValues([1,2,3,4,5,6]).tickSize(-(yb-yt+1)).tickFormat(""));
  gx.select(".domain").remove();
  gx.selectAll("line").attr("stroke","#c4c4c4").attr("stroke-width",1.2);
  const gy = g.append("g").attr("transform", `translate(${x0},0)`)
    .call(d3.axisLeft(ys).tickValues([0.2,0.4,0.6,0.8,1.0]).tickSize(-(x1-x0)).tickFormat(""));
  gy.select(".domain").remove();
  gy.selectAll("line").attr("stroke","#c4c4c4").attr("stroke-width",1.2);

  // frame
  g.append("rect").attr("x",x0).attr("y",yt-1).attr("width",x1-x0).attr("height",yb-yt+1)
    .attr("fill","none").attr("stroke","#000").attr("stroke-width",1.5);

  // ticks (inward)
  const ax = g.append("g").attr("transform", `translate(0,${yb})`)
    .call(d3.axisBottom(xs).tickValues(d3.range(0,8)).tickSize(-3.5).tickPadding(7)
      .tickFormat(d => xTickLabels.includes(d) ? d : ""));
  ax.select(".domain").remove();
  ax.selectAll("line").attr("stroke","#000");
  ax.selectAll("text").attr("font-size",16).attr("fill","#000").attr("font-family","DejaVu Sans").attr("dy","0.71em").attr("y",7.5);
  const ay = g.append("g").attr("transform", `translate(${x0},0)`)
    .call(d3.axisLeft(ys).tickValues(yTickLabels).tickSize(-3.5).tickPadding(3.5).tickFormat(d3.format(".1f")));
  ay.select(".domain").remove();
  ay.selectAll("line").attr("stroke","#000");
  ay.selectAll("text").attr("font-size",12.5).attr("fill","#000").attr("font-family","DejaVu Sans");

  // labels
  const cx = (x0+x1)/2;
  g.append("text").attr("x",cx).attr("y",yt-6.3).attr("text-anchor","middle").attr("font-size",15.5).text(titles[idx]);
  g.append("text").attr("x",cx).attr("y",yb+34.5).attr("text-anchor","middle").attr("font-size",13.5).text("log10(# f-evals / dimension)");
  g.append("text").attr("transform",`translate(${x0-31},${(yb+yt)/2}) rotate(-90)`).attr("text-anchor","middle")
    .attr("font-size",13.5).text("Fraction of function,target pairs");
  g.append("text").attr("x",cx).attr("y",yb-3.5).attr("text-anchor","middle").attr("font-size",8.2).attr("fill","#9a9a9a").text(versionText);

  const line = d3.line().x(d=>xs(d[0])).y(d=>ys(d[1]));
  const legX = x1 + 23.5;
  const legendY = d3.range(17).map(i => 0.983 - i*0.06);

  drawOrder.forEach(name => {
    const pts = P.curves[name]; if(!pts) return;
    const st = algoStyle[name];
    const best = name === "best 2009";
    const last = pts[pts.length-1];
    const full = last[0] < 7 ? pts.concat([[7, last[1]]]) : pts;
    const li = P.order.indexOf(name);
    const ly = legendY[li];
    const lw = best ? 5 : (name==="TNC" ? 1.5 : 1.3);
    const sg = g.append("g");
    sg.append("path").attr("d", line(full)).attr("fill","none").attr("stroke",st.color)
      .attr("stroke-width",lw).attr("stroke-linejoin","round");
    // line to legend
    sg.append("path").attr("d", `M${xs(7)},${ys(last[1])}L${legX},${ys(ly)}`).attr("fill","none")
      .attr("stroke",st.color).attr("stroke-width",lw);
    const mk = (px,py,k) => sg.append("path").attr("d", markerPath(st.marker, k))
      .attr("transform",`translate(${px},${py})`)
      .attr("fill", best ? st.color : "none").attr("stroke", st.color).attr("stroke-width", 1.1);
    (P.marks[name]||[]).forEach(m => mk(xs(m[0]), ys(m[1]), best?1.4:1));
    mk(xs(7), ys(last[1]), best?1.4:1);
    mk(legX, ys(ly), best?1.5:1);
    if (P.crosses[name]) {
      const c = P.crosses[name];
      sg.append("path").attr("d", markerPath("X",1)).attr("transform",`translate(${xs(c[0])},${ys(c[1])})`)
        .attr("fill","none").attr("stroke",st.color).attr("stroke-width",1);
    }
    g.append("text").attr("x",legX+5).attr("y",ys(ly)).attr("dy","0.35em").attr("font-size",9.2)
      .attr("fill","#000").text(name);
  });

  // info box
  const info = [infoHeads[idx], infoLines2, infoLines3];
  info.forEach((t,i) => g.append("text").attr("x",x0+3.5).attr("y",yt+3.6+i*9.3).attr("dy","0.35em")
    .attr("font-size",8.1).attr("fill","#222").text(t));
});
</script></body></html>
